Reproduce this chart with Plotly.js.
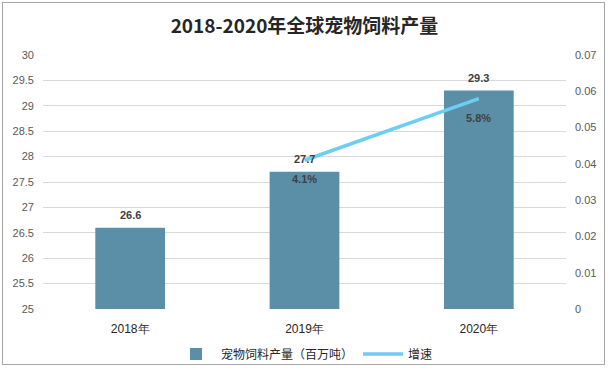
<!DOCTYPE html>
<html><head><meta charset="utf-8">
<script src="https://cdn.plot.ly/plotly-3.0.1.min.js"></script>
<style>
body{margin:0;padding:0;background:#fff;}
#frame{position:absolute;left:2px;top:2px;width:603px;height:363px;border:1px solid #A6A6A6;box-sizing:border-box;pointer-events:none;z-index:10;}
#chart{position:absolute;left:0;top:0;width:610px;height:370px;}
</style></head>
<body>
<div id="chart"></div>
<div id="frame"></div>
<script>
const categories = ['2018年','2019年','2020年'];
const production = [26.6, 27.7, 29.3];
const growth = [null, 0.041, 0.058];
const growthLabels = ['', '4.1%', '5.8%'];
const leftTicks = [25,25.5,26,26.5,27,27.5,28,28.5,29,29.5,30];
const rightTicks = [0,0.01,0.02,0.03,0.04,0.05,0.06,0.07];

const fontCJK = '"Noto Sans CJK SC", "Noto Sans", sans-serif';
const labelFont = {family:'"Liberation Sans", sans-serif', size:11, color:'#404040', weight:'bold'};
const traces = [
  {type:'bar', name:'宠物饲料产量（百万吨）', x:categories, y:production,
   marker:{color:'#5B8FA7'}, width:0.4, hoverinfo:'none'},
  {type:'scatter', mode:'lines', name:'增速', x:categories, y:growth, yaxis:'y2',
   line:{color:'#6DCDF3', width:3.5}, hoverinfo:'none', connectgaps:false}
];
const annotations = [];
categories.forEach((c,i)=>{
  annotations.push({x:c, y:production[i], xref:'x', yref:'y', text:production[i].toFixed(1),
    showarrow:false, yanchor:'middle', yshift:13, font:labelFont});
  if (growth[i] !== null) {
    annotations.push({x:c, y:growth[i], xref:'x', yref:'y2', text:growthLabels[i],
      showarrow:false, yanchor:'middle', yshift:-19, font:labelFont});
  }
});
const layout = {
  width:610, height:370,
  margin:{l:43, r:44, t:55, b:61, autoexpand:false},
  paper_bgcolor:'#fff', plot_bgcolor:'#fff',
  title:{text:'<b>2018-2020年全球宠物饲料产量</b>', x:0.5, xref:'paper', yref:'container', y:0.93, yanchor:'middle',
         font:{family:fontCJK, size:19, color:'#262626'}},
  showlegend:true,
  legend:{orientation:'h', x:0.5, xanchor:'center', yref:'container', y:0.043, yanchor:'middle',
          font:{family:fontCJK, size:12, color:'#262626'}, traceorder:'normal', itemwidth:40},
  annotations:annotations,
  xaxis:{type:'category', showgrid:false, zeroline:false, showline:false,
         ticks:'', ticklabelstandoff:11, tickfont:{family:'"Liberation Sans", sans-serif', size:12, color:'#262626'}},
  yaxis:{range:[25,30], tickvals:leftTicks, ticktext:leftTicks.map(String), showgrid:true, gridcolor:'#D9D9D9',
         zeroline:false, showline:false, ticks:'', ticklabelstandoff:8,
         tickfont:{family:'"Liberation Sans", sans-serif', size:11, color:'#595959'}},
  yaxis2:{range:[0,0.07], overlaying:'y', side:'right', tickvals:rightTicks, ticktext:rightTicks.map(String),
          showgrid:false, zeroline:false, showline:false, ticks:'', ticklabelstandoff:8,
          tickfont:{family:'"Liberation Sans", sans-serif', size:11, color:'#595959'}}
};
Plotly.newPlot('chart', traces, layout, {staticPlot:true});
</script>
</body></html>
